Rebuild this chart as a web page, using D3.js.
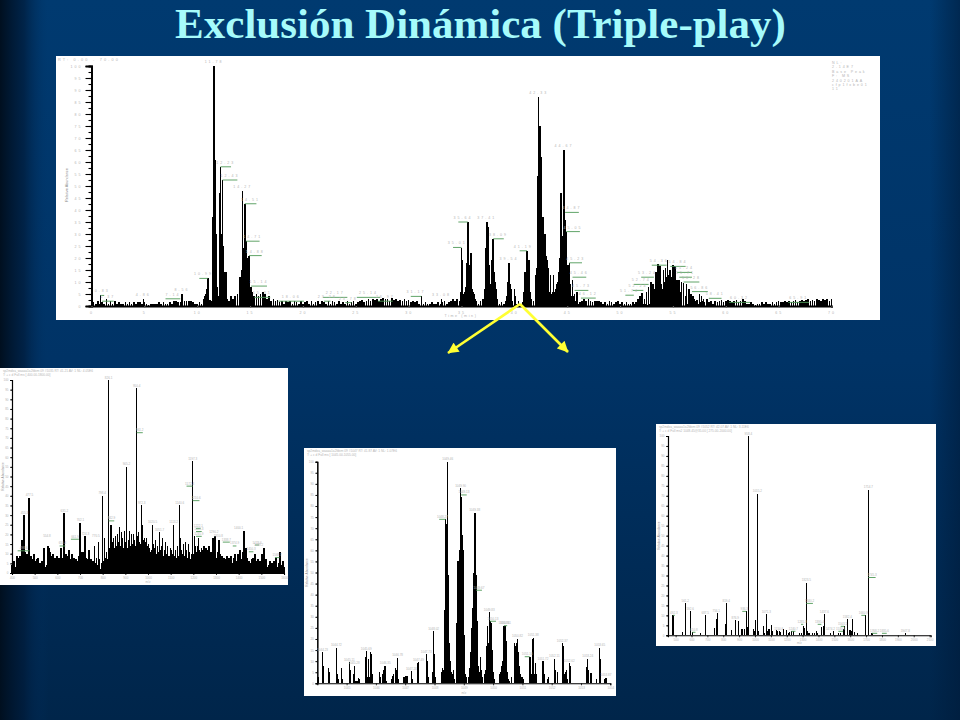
<!DOCTYPE html>
<html><head><meta charset="utf-8">
<script src="https://cdn.jsdelivr.net/npm/d3@7/dist/d3.min.js"></script>
<style>html,body{margin:0;padding:0;background:#003366}svg{display:block}</style>
</head><body><svg id="c" width="960" height="720"></svg>
<script>
const titleText = "Exclusión Dinámica (Triple-play)";

// Base peak chromatogram: baseline noise, one reading every 0.2 min from 0 to 70 min
const chromNoiseStep = 0.2;
const chromNoise = [
1,1.5,1,2,1,1.5,1,3,1,2,1,2,1,1.5,1,1,1.5,1,1.5,1,1.5,1,1.5,1.5,1,1.5,1,0.5,1,1,
1,1,1.5,1,1.5,1,1,1.5,1,2,2,1.5,1.5,1.5,2,2,2,2,1.5,1,
1,1.5,1,2,3,1,2.5,2,3,1.5,3,2,3,2.5,3,2,4,3,4,5,3,4,2,3,4,5,3,4,5,4,5,6,5,3,4,2,3,2,2.5,1.5,
2,1,2,1.5,2,1,2,1.5,1,2,1,1.5,2,1,2,1,1.5,2,1,2,1.5,1,2,1,2,1.5,1,2,1,1.5,
1,2,1,1.5,2,1,1.5,2,2.5,1.5,2,3,2,3,2.5,3,2,3,3.5,3,
3,2,3.5,2.5,3,2,2.5,2,3,2,2.5,1.5,2,1.5,2,1,1.5,1,1.5,1,
1,1.5,1,1,1.5,1,1.5,2,1,1.5,2,3,2,3,2,1.5,1,1.5,1,1.5,
1,1.5,2,1,2,3,2,1.5,1,1.5,1,1,1.5,1,1.5,1,2,1.5,1,2,
2,1,2,1,1.5,1,2,1,1.5,2,2,1.5,2,1,1.5,1,2,1,1.5,1,
1,2,1,2,1.5,2,3,2,1.5,2,1,1.5,2,3,2,3,2,1.5,2,2,
2,1.5,1,1.5,1,2,1.5,1,1.5,2,1,1.5,1,1.5,1,1,1.5,1,1.5,1,
1.5,1,1,0.5,1,1,1.5,1,1,1.5,1,1.5,1,1,1.5,2,1,1.5,2,1.5,
2,1.5,1,1.5,2,1.5,2,1,1.5,2,1.5,2,1.5,2,1,2,1.5,2,2.5,1.5,
2,2.5,2,1.5,2,2.5,1.5,2,3,2,
1,1,1.5,1,0.5,1,1,1.5,1,1.5,1,1,1.5,1,1.5,2,1.5,1.5,2,1.5,2,1.5,2,2.5,1.5,2,2.5,2,2.5,3,2,2.5,2,3,2.5,2,3,2.5,3,2,3
];
const chromPeakTimes = [0.84,4.9,8.56,10.6,10.7,10.8,10.9,11.0,11.1,11.5,11.6,11.7,11.8,11.9,12.0,12.1,12.2,12.3,12.4,12.5,12.6,12.7,12.8,
14.0,14.1,14.2,14.3,14.4,14.5,14.6,14.7,14.8,14.9,15.0,15.1,15.2,15.3,15.4,31.2,33.1,
34.9,35.0,35.1,35.2,35.3,35.4,35.5,35.6,35.7,35.8,35.9,36.0,36.1,36.2,36.3,
37.1,37.2,37.3,37.4,37.5,37.6,37.7,37.8,37.9,38.0,38.1,38.2,38.3,38.4,
39.3,39.4,39.5,39.6,39.7,39.8,40.0,40.1,40.9,41.0,41.1,41.2,41.3,41.4,41.5,41.6,
42.0,42.1,42.2,42.3,42.4,42.5,42.6,42.7,42.8,42.9,43.0,43.1,43.2,43.3,43.4,43.5,43.6,43.7,43.8,43.9,44.0,
44.1,44.2,44.3,44.4,44.5,44.6,44.7,44.8,44.9,45.0,45.1,45.2,45.3,45.4,45.5,45.6,45.7,45.8,45.9,
51.5,51.7,51.9,52.1,52.3,52.5,52.7,52.9,53.0,53.1,53.2,53.3,53.4,53.5,53.6,53.7,53.8,53.9,54.0,54.1,54.2,54.3,54.4,54.5,54.6,54.7,54.8,54.9,
55.0,55.1,55.2,55.3,55.4,55.5,55.6,55.7,55.8,56.0,56.2,56.3,56.5,56.7,56.9,57.0,57.3,57.5,57.7,57.9,58.2];
const chromPeakValues = [4.4,3,5,3,4,5,7,11.5,2,37,100,61,30,8,4,47,58,30,52.5,25,14,14,3,
12,12,15,48,24,42.6,27,20,11,21,8,8,6,4,3,4,3,
6,24,19,5,6,8,18,35,17,15,22,7,6,5,3,
3,7,24,35,33,17,8,9,19,28,14,10,7,3,
4,10,18,9,7,2,7,4,6,14,14,23,19,19,6,3,
13,16,54,87,75,62,20,37,21,30,21,19,16,6,13,5,6,13,6,7,9,
10,14,20,47,29,23,65,36,31,9,17,18,9,4,11,4,5,2,6,
1.5,3,4,5.5,3,6,8,10,8,9,7,5,14,8,17.5,9,16.5,9,7,15,10,16,12,19,13,15,12,9,
17,10,16.5,9,11,5,11,6,10,9.5,4,9,7,5,4,3,2.5,5,4,3,3];
const chromLabelTimes = [0.84,1.0,4.9,7.0,8.56,11.0,11.6,12.2,12.4,14.3,14.5,14.6,14.9,15.1,15.4,17.7,21.9,22.0,24.0,25.1,27.1,31.2,33.1,35.0,35.6,37.4,38.0,39.5,41.2,42.3,44.7,44.8,44.9,45.2,45.5,45.7,46.3,50.5,51.2,51.3,52.0,53.0,54.75,55.4,55.6,56.0,56.8,58.4,60.3,65.9];
const chromLabelValues = [4.4,2,3,3,5,11.5,100,58,52.5,48,42.6,27,21,8.3,3.6,2,3.6,2,1.4,3.6,2,4,3,24.4,35,35,28,18,23,87,65,39,31,18,12,6.5,3.3,4.5,6.5,9,12,17,16.5,14,12,10,6,3.2,1.5,1.5];
const chromLabelEnds = [1.2,2.1,0,8.4,0,10.2,0,13.2,13.8,0,15.6,15.9,16.1,16.6,16.9,20.1,24.2,22.6,24.6,27.3,28.5,30.2,0,34.2,34.7,0,39.0,0,40.5,0,0,46.1,46.2,46.4,46.8,47,47.7,51.3,52.2,52.7,53.2,54.4,56.2,56.8,56.8,57.5,58.3,59.6,62.3,67.9];
const chromLabelTexts = ["0.83","1.37","4.86","7.14","8.56","10.99","11.78","12.23","12.43","14.27","14.51","14.71","14.88","15.14","15.31","18.06","22.17","23.28","23.78","25.14","26.97","31.17","33.08","35.01","35.64","37.41","38.09","39.54","41.19","42.33","44.67","44.87","45.05","45.23","45.46","45.73","46.12","51.74","52.24","52.74","53.24","54.36","54.84","55.24","55.71","56.28","56.86","58.41","60.32","65.91"];
const chromYTicks = [0,5,10,15,20,25,30,35,40,45,50,55,60,65,70,75,80,85,90,95,100];
const chromXTicks = [0,5,10,15,20,25,30,35,40,45,50,55,60,65,70];
const chromHeader = "RT: 0.00 - 70.00";
const chromInfo = ["NL:","2.14E7","Base Peak","F: MS","240201AA","cfp1fxbe01","11"];

// Spectrum A (left)
const specAValues = [4,2,6,3,1,9,8,3,9,6,17,8,30,11,7,10,9,39,8,9,7,3,10,4,6,7,8,5,3,5,6,4,13,3,2,4,14,13,11,9,8,10,3,8,6,9,7,8,5,13,
5,8,31,6,10,9,6,12,5,7,10,6,8,5,7,6,3,9,26,10,11,11,6,19,8,7,4,12,6,7,3,6,14,5,8,4,16,7,2,5,40,6,18,8,11,7,100,13,25,25,
16,18,13,19,14,20,16,24,14,21,18,13,22,16,55,13,17,22,14,20,15,20,17,14,96,19,21,16,15,35,25,17,18,16,18,14,15,13,11,12,25,15,13,17,10,14,11,21,12,14,
18,9,12,16,10,14,9,9,13,12,10,25,9,12,8,14,9,35,18,12,10,15,9,16,12,8,15,11,7,10,58,10,19,14,11,14,18,12,11,13,12,14,11,13,12,12,14,8,11,9,
18,6,19,8,5,11,17,10,4,9,6,8,5,7,9,6,8,4,9,5,4,8,10,6,3,10,5,12,4,7,11,22,5,13,8,4,6,3,5,7,8,4,10,3,6,7,4,6,3,10,5,13,4,7,3,2,4,6,3,5,2,6,4,8,3,2,5,11,4,2,6,3];
const specAStart = 400, specAEnd = 1600;
const specATicks = [400,500,600,700,800,900,1000,1100,1200,1300,1400,1500,1600];
const specALabelMz = [455,477,477,554,631,610,660,702,724,770,798,826,826,905,950,950,972,1020,1051,1113,1140,1197,1170,1197,1212,1212,1212,1290,1310,1330,1374,1400,1472,1445,1488,1560];
const specALabelVal = [29.7,39,11.5,18,31,14,17.5,26,19,18,40,100,27,55,95.5,72.7,35,25,21,25,35,58,45,37.5,23,21.5,19,20,18,16,14,22,14.5,11,13,8];
const specALabelEnd = [0,0,425,0,0,635,695,0,0,0,0,0,851,0,0,977,0,0,0,0,0,0,1197,1227,1232,1237,1237,0,0,1361,1390,0,1490,1465,0,1580];
const specALabelText = ["455.3","477.5","498.6","554.8","631.2","610.4","661.9","702.1","724.3","770.5","798.4","826.1","842.9","905.2","950.4","961.2","972.3","1020.5","1051.7","1113.2","1140.6","1197.3","1172.4","1210.6","1222.1","1228.3","1235.9","1290.2","1310.8","1338.7","1374.9","1400.1","1478.6","1450.3","1488.2","1568.7"];
const specAHeader = ["sp2mdxa_waaaa1a2fdxm 09 #1035 RT: 41.21 AV: 1 NL: 4.05E6","T: + c d Full ms [ 400.00-1800.00]"];

// Spectrum B (centre)
const specBMz = [1044.02,1044.18,1044.22,1044.39,1044.42,1044.65,1044.68,1044.72,1044.82,1044.85,1045.09,1045.13,1045.24,1045.26,1045.30,1045.35,1045.41,1045.43,1045.64,1045.67,1045.71,1045.74,1045.77,1045.81,1045.84,1045.88,
1046.13,1046.16,1046.22,1046.26,1046.30,1046.32,1046.35,1046.53,1046.57,1046.59,1046.67,1046.71,1046.74,1046.78,1046.95,1046.98,1047.03,1047.06,1047.21,1047.24,1047.41,1047.45,1047.72,1047.75,1047.79,1047.94,1047.97,
1048.00,1048.04,1048.23,1048.27,1048.30,1048.35,1048.38,1048.40,1048.43,1048.45,1048.48,1048.52,1048.55,1048.58,1048.62,1048.65,1048.69,1048.77,1048.80,1048.84,1048.87,1048.89,1048.91,1048.95,1048.97,
1049.01,1049.04,1049.07,1049.16,1049.20,1049.22,1049.24,1049.28,1049.31,1049.35,1049.37,1049.39,1049.42,1049.44,1049.46,1049.49,1049.53,1049.56,1049.60,1049.63,1049.70,1049.73,1049.77,1049.80,1049.84,1049.87,1049.89,1049.93,1049.96,
1050.00,1050.05,1050.21,1050.25,1050.28,1050.31,1050.35,1050.37,1050.41,1050.44,1050.47,1050.51,1050.54,1050.62,1050.72,1050.76,1050.79,1050.83,1050.86,1050.89,1050.93,1050.96,
1051.00,1051.03,1051.25,1051.28,1051.32,1051.35,1051.37,1051.41,1051.44,1051.47,1051.70,1051.74,1051.86,1051.90,1052.09,1052.12,1052.19,1052.36,1052.40,1052.43,1052.46,1052.50,1052.53,1052.60,1052.63,1053.20,1053.23,1053.26,1053.32,1053.35,1053.53,1053.64,1053.67,1053.81,1053.85];
const specBValues = [3,14,8,7,5,16,4,2,7,2,9.5,6,4,8,1,1,2.5,2,12,14.5,3,11,3,14,13,4,
5,3,4,6,8,8,1,2,3.5,4,7,6,11.5,2,3,3,3.5,3.5,5.5,2,9,9.5,13,10,3,5,23.5,
13,3,5,7,6,33,74,72,60,100,49,18,10,5,4,6,2,27,55,45,60,88,84,67,60,
22,4,3,3,7,7,14,25,34,50,77,77,49,42,28,8,5,12,6,3,4,6,17,26,18,32,28,27,15,
5,2,4,5,8,10,17,26,26,19,5,2,1,3,18,17,18,20,14,8,4,3,
3,2,12,12,4,20,20.5,4,9,4,10,4,2,3,11,6,5,18,17,4,5,6,2,9,8,7.5,11,6,4.5,4.5,2,16,11,2,2.5];
const specBTicks = [1045,1046,1047,1048,1049,1050,1051,1052,1053,1054];
const specBLabelMz = [1044.18,1044.65,1045.09,1045.26,1045.67,1046.32,1046.74,1047.21,1047.45,1047.72,1047.97,1048.38,1048.45,1048.89,1048.91,1049.37,1049.42,1049.87,1049.89,1050.37,1050.37,1050.83,1051.25,1051.37,1051.70,1052.09,1052.36,1052.60,1053.23,1053.64,1053.85];
const specBLabelVal = [14,16,9.5,8,14.5,8,11.5,5.5,9.5,13,23.5,74,100,88,85,77,42,32,28,26,26,20,12,20.5,10,11,18,9,11,16,2.5];
const specBLabelEnd = [0,0,0,0,0,0,0,0,0,0,0,1048.16,0,0,1049.1,0,1049.62,0,1050.1,0,1050.48,0,1051.08,0,0,0,0,0,0,0,0];
const specBLabelText = ["1044.23","1044.72","1045.11","1045.28","1045.69","1046.35","1046.78","1047.24","1047.49","1047.73","1048.02","1048.27","1049.46","1049.90","1049.13","1049.38","1049.67","1049.83","1050.13","1050.36","1050.51","1050.82","1051.10","1051.38","1051.72","1052.11","1052.37","1052.62","1053.24","1053.65","1053.87"];
const specBHeader = ["sp2mdxa_waaaa1a2fdxm 09 #1047 RT: 41.87 AV: 1 NL: 1.07E6","T: + c d Full ms [ 1045.00-1055.00]"];

// Spectrum C (right)
const specCMz = [483,485,542,561,592,605,655,687,744,756,762,813,819,851,876,895,914,922,933,945,952,958,989,995,1004,1015,1021,1052,1059,1071,1078,1084,1090,1103,1109,1134,1140,1153,1159,1178,1197,1210,1216,1229,1241,1279,1292,1304,1311,1323,1330,1336,1342,1361,1374,1386,1393,1418,1430,1437,1474,1493,1525,1537,1556,1563,1582,1594,1600,1607,1613,1626,1645,1695,1714,1737,1947];
const specCValues = [10,3,1.5,16,12,1.5,1,10,3.5,8,11,5.5,16.2,2.5,7.5,7,3,3,3,12,4,100,3,2,7.5,71,2,4.5,1,10.5,2,3,3,5,2,2.5,2,2,1.5,3,2.5,1,1.5,2,2,1,1,4.5,3.5,26.4,2,1,1,1,1,2,1,4,4.5,10.5,1,2,1,1,3,4.5,8,2.5,2.5,2,8,1.5,1,10,73,1,1];
const specCTicks = [500,600,700,800,900,1000,1100,1200,1300,1400,1500,1600,1700,1800,1900,2000,2100];
const specCLabelMz = [483,561,592,605,687,756,819,876,945,958,1015,1071,1150,1229,1304,1323,1323,1418,1437,1474,1525,1563,1582,1695,1714,1714,1737,1800,1947];
const specCLabelVal = [10,16,12,1.5,10,11,16.2,7.5,12,100,71,10.5,2,2,5.5,26.4,16,5.5,10.5,2,2,4.5,8,10,73,29,1,1,1];
const specCLabelEnd = [495,0,0,625,0,0,0,0,920,0,0,0,0,1255,1290,0,1365,1395,0,0,1555,1540,0,1670,0,1760,1770,1830,0];
const specCLabelText = ["492.3","561.2","592.6","610.8","687.5","756.1","819.4","876.9","936.3","958.4","1015.2","1071.3","1150.6","1240.7","1285.3","1323.5","1340.2","1395.4","1437.6","1474.2","1530.8","1563.1","1582.4","1660.9","1714.7","1745.3","1768.2","1835.6","1947.8"];
const specCHeader = ["sp2mdxa_waaaa1a2fdxm 09 #1052 RT: 42.07 AV: 1 NL: 3.11E6","T: + c d Full ms2 1048.45@35.00 [ 275.00-2000.00]"];

const FONT = "Liberation Sans, Arial, sans-serif";
const GREY = "#b4b4b4", GREEN = "#4f9a58";
const svg = d3.select("#c");
const defs = svg.append("defs");
const vg = defs.append("linearGradient").attr("id","bgV").attr("x1",0).attr("y1",0).attr("x2",0).attr("y2",1);
[[0,"#003a70"],[0.5,"#003366"],[1,"#00254a"]].forEach(s=>vg.append("stop").attr("offset",s[0]).attr("stop-color",s[1]));
const lg = defs.append("linearGradient").attr("id","bgL");
[[0,"#000f1f",1],[0.5,"#001a38",0.7],[1,"#003366",0]].forEach(s=>lg.append("stop").attr("offset",s[0]).attr("stop-color",s[1]).attr("stop-opacity",s[2]));
const rg = defs.append("linearGradient").attr("id","bgR");
[[0,"#001a38",0],[1,"#001a38",0.55]].forEach(s=>rg.append("stop").attr("offset",s[0]).attr("stop-color",s[1]).attr("stop-opacity",s[2]));
svg.append("rect").attr("width",960).attr("height",720).attr("fill","url(#bgV)");
svg.append("rect").attr("width",48).attr("height",720).attr("fill","url(#bgL)");
svg.append("rect").attr("x",930).attr("width",30).attr("height",720).attr("fill","url(#bgR)");

svg.append("text").attr("x",480.5).attr("y",38.4).attr("text-anchor","middle")
  .attr("font-family","Liberation Serif, Times New Roman, serif").attr("font-weight","bold")
  .attr("font-size",43).attr("fill","#a6fbfb").text(titleText);

function panel(o){
  const g = svg.append("g");
  g.append("rect").attr("x",o.box[0]).attr("y",o.box[1]).attr("width",o.box[2]-o.box[0]).attr("height",o.box[3]-o.box[1]).attr("fill","#fff");
  const x = d3.scaleLinear().domain(o.xDomain).range([o.plot[0],o.plot[2]]);
  const y = d3.scaleLinear().domain([0,100]).range([o.plot[3],o.plot[1]]);
  // sticks
  g.append("g").attr("shape-rendering","crispEdges").selectAll("line").data(o.marks).join("line")
    .attr("x1",d=>x(d[0])).attr("x2",d=>x(d[0])).attr("y1",y(0)).attr("y2",d=>y(d[1]))
    .attr("stroke","#000").attr("stroke-width",o.stick);
  // y axis
  const yMinor = d3.range(0,100.01,o.yMinor);
  const ax = g.append("g").attr("transform",`translate(${o.plot[0]},0)`)
    .call(d3.axisLeft(y).tickValues(yMinor).tickSize(o.tick/2).tickFormat(""));
  const ay = g.append("g").attr("transform",`translate(${o.plot[0]},0)`)
    .call(d3.axisLeft(y).tickValues(o.yTicks).tickSize(o.tick).tickPadding(o.pad).tickFormat(o.yFmt||d3.format("d")));
  const bx = g.append("g").attr("transform",`translate(0,${o.plot[3]})`)
    .call(d3.axisBottom(x).tickValues(o.xTicks).tickSize(o.xTick).tickPadding(o.pad).tickFormat(d3.format("d")));
  [ax,ay,bx].forEach(a=>{
    a.selectAll(".domain").attr("stroke","#000").attr("stroke-width",o.axisW);
    a.selectAll("line").attr("stroke","#000").attr("stroke-width",o.tickW);
    a.selectAll("text").attr("fill",GREY).attr("font-family",FONT).attr("font-size",o.fs).attr("letter-spacing",o.ls);
  });
  bx.selectAll("line").attr("stroke",o.xTickColor||"#000");
  // annotations
  const ann = o.labels.x.map((t,i)=>({t,v:o.labels.v[i],e:o.labels.e[i],s:o.labels.s[i]}));
  g.append("g").selectAll("line").data(ann.filter(d=>d.e)).join("line")
    .attr("x1",d=>x(d.t)).attr("x2",d=>x(d.e)).attr("y1",d=>y(d.v)).attr("y2",d=>y(d.v))
    .attr("stroke",GREEN).attr("stroke-width",0.9);
  g.append("g").selectAll("text").data(ann).join("text")
    .attr("x",d=>d.e?x((d.t+d.e)/2):x(d.t))
    .attr("y",d=>y(d.v)-o.labelGap).attr("text-anchor","middle")
    .attr("font-family",FONT).attr("font-size",o.fs).attr("letter-spacing",o.ls).attr("fill",GREY).text(d=>d.s);
  return g;
}

// main chromatogram
const noiseMarks = chromNoise.map((v,i)=>[i*chromNoiseStep,v]);
const peakMarks = chromPeakTimes.map((t,i)=>[t,chromPeakValues[i]]);
const mainG = panel({box:[56,56,880,320],plot:[91.5,66,831.5,306],xDomain:[0,70],marks:noiseMarks.concat(peakMarks),stick:1.6,
  yTicks:chromYTicks,yMinor:2.5,xTicks:chromXTicks,tick:6,xTick:2,xTickColor:"#666",pad:3,fs:3.6,ls:2,axisW:1.8,tickW:1.1,labelGap:3,
  labels:{x:chromLabelTimes,v:chromLabelValues,e:chromLabelEnds,s:chromLabelTexts}});
const small = (g,x,y,t,fs,ls,anchor)=>g.append("text").attr("x",x).attr("y",y).attr("font-family",FONT).attr("font-size",fs)
  .attr("letter-spacing",ls||0).attr("fill",GREY).attr("text-anchor",anchor||"start").text(t);
small(mainG,58,61,chromHeader,3.8,2.2);
chromInfo.forEach((t,i)=>small(mainG,832,64+i*4.4,t,3.6,1.9));
small(mainG,461,317,"Time (min)",3.6,1.6,"middle");
mainG.append("text").attr("transform","translate(68,185) rotate(-90)").attr("text-anchor","middle").attr("font-family",FONT).attr("font-size",3.8).attr("fill","#888").text("Relative Abundance");

// spectra
function spectrum(o,header){
  const g = panel(Object.assign({stick:1.3,yTicks:chromYTicks,yMinor:5,tick:2,xTick:2,pad:1.5,fs:3,ls:0,axisW:1.1,tickW:0.8,labelGap:1.5},o));
  header.forEach((t,i)=>small(g,o.box[0]+3,o.box[1]+4+i*3.6,t,3.2,0));
  small(g,(o.plot[0]+o.plot[2])/2,o.box[3]-2.5,"m/z",3,0,"middle");
  g.append("text").attr("transform",`translate(${o.box[0]+3.5},${(o.plot[1]+o.plot[3])/2}) rotate(-90)`).attr("text-anchor","middle").attr("font-family",FONT).attr("font-size",3.2).attr("fill","#888").text("Relative Abundance");
}
const aMz = specAValues.map((_,i)=>specAStart+i*(specAEnd-specAStart)/(specAValues.length-1));
spectrum({box:[0,368,288,585],plot:[12,380,284,573],xDomain:[specAStart,specAEnd],xTicks:specATicks,stick:1.6,
  marks:aMz.map((m,i)=>[m,specAValues[i]]),
  labels:{x:specALabelMz,v:specALabelVal,e:specALabelEnd,s:specALabelText}},specAHeader);
spectrum({box:[304,448,616,696],plot:[317.3,461.7,610.3,683.3],xDomain:[1044,1054],xTicks:specBTicks,
  marks:specBMz.map((m,i)=>[m,specBValues[i]]),
  labels:{x:specBLabelMz,v:specBLabelVal,e:specBLabelEnd,s:specBLabelText}},specBHeader);
spectrum({box:[656,424,936,646],plot:[668,436,930.7,635.3],xDomain:[452,2107],xTicks:specCTicks,
  marks:specCMz.map((m,i)=>[m,specCValues[i]]),
  labels:{x:specCLabelMz,v:specCLabelVal,e:specCLabelEnd,s:specCLabelText}},specCHeader);

// arrows
const mk = defs.append("marker").attr("id","ah").attr("viewBox","0 0 10 10").attr("refX",9.5).attr("refY",5).attr("markerWidth",4.6).attr("markerHeight",4.2).attr("orient","auto");
mk.append("path").attr("d","M0,0L10,5L0,10Z").attr("fill","#ffff33");
[[448,353],[568,352]].forEach(e=>svg.append("line").attr("x1",520).attr("y1",304).attr("x2",e[0]).attr("y2",e[1])
  .attr("stroke","#ffff33").attr("stroke-width",2.6).attr("marker-end","url(#ah)"));
</script></body></html>
